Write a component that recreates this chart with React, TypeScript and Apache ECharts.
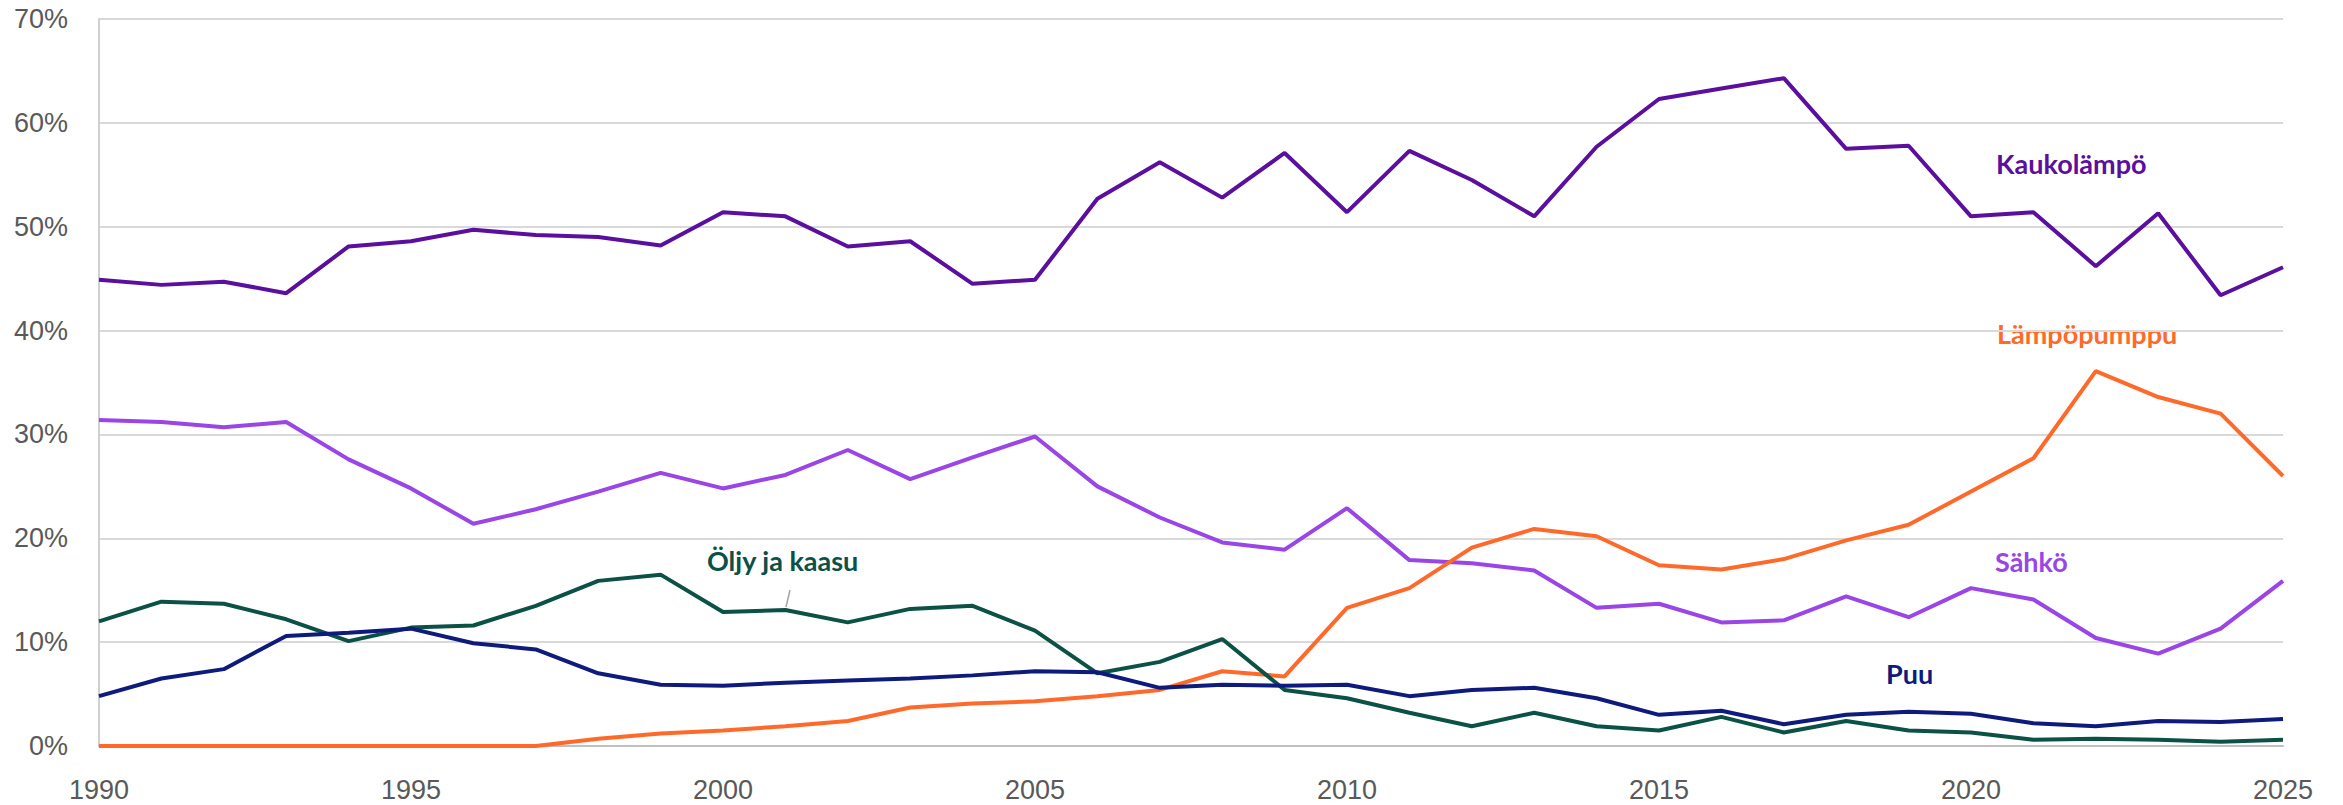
import React, { useEffect, useRef } from "react";
import * as echarts from "echarts";

const years = [
  1990, 1991, 1992, 1993, 1994, 1995, 1996, 1997, 1998, 1999,
  2000, 2001, 2002, 2003, 2004, 2005, 2006, 2007, 2008, 2009,
  2010, 2011, 2012, 2013, 2014, 2015, 2016, 2017, 2018, 2019,
  2020, 2021, 2022, 2023, 2024, 2025,
];

const kaukolampo = [
  44.9, 44.4, 44.7, 43.6, 48.1, 48.6, 49.7, 49.2, 49.0, 48.2,
  51.4, 51.0, 48.1, 48.6, 44.5, 44.9, 52.7, 56.2, 52.8, 57.1,
  51.4, 57.3, 54.5, 51.0, 57.7, 62.3, 63.3, 64.3, 57.5, 57.8,
  51.0, 51.4, 46.2, 51.3, 43.4, 46.1,
];

const sahko = [
  31.4, 31.2, 30.7, 31.2, 27.6, 24.8, 21.4, 22.8, 24.5, 26.3,
  24.8, 26.1, 28.5, 25.7, 27.8, 29.8, 25.0, 22.0, 19.6, 18.9,
  22.9, 17.9, 17.6, 16.9, 13.3, 13.7, 11.9, 12.1, 14.4, 12.4,
  15.2, 14.1, 10.4, 8.9, 11.3, 15.9,
];

const lampopumppu = [
  0, 0, 0, 0, 0, 0, 0, 0, 0.7, 1.2,
  1.5, 1.9, 2.4, 3.7, 4.1, 4.3, 4.8, 5.4, 7.2, 6.7,
  13.3, 15.2, 19.1, 20.9, 20.2, 17.4, 17.0, 18.0, 19.8, 21.3,
  24.5, 27.7, 36.1, 33.6, 32.0, 26.0,
];

const oljyJaKaasu = [
  12.0, 13.9, 13.7, 12.2, 10.1, 11.4, 11.6, 13.5, 15.9, 16.5,
  12.9, 13.1, 11.9, 13.2, 13.5, 11.1, 7.0, 8.1, 10.3, 5.4,
  4.6, 3.2, 1.9, 3.2, 1.9, 1.5, 2.8, 1.3, 2.4, 1.5,
  1.3, 0.6, 0.7, 0.6, 0.4, 0.6,
];

const puu = [
  4.8, 6.5, 7.4, 10.6, 10.9, 11.3, 9.9, 9.3, 7.0, 5.9,
  5.8, 6.1, 6.3, 6.5, 6.8, 7.2, 7.1, 5.6, 5.9, 5.8,
  5.9, 4.8, 5.4, 5.6, 4.6, 3.0, 3.4, 2.1, 3.0, 3.3,
  3.1, 2.2, 1.9, 2.4, 2.3, 2.6,
];

const seriesDefs = [
  { name: "Kaukolämpö", data: kaukolampo, color: "#5A0F9E" },
  { name: "Sähkö", data: sahko, color: "#9A45E6" },
  { name: "Lämpöpumppu", data: lampopumppu, color: "#FF6A2A" },
  { name: "Öljy ja kaasu", data: oljyJaKaasu, color: "#0B5146" },
  { name: "Puu", data: puu, color: "#0E1A7C" },
];

const labelFont = "Lato, 'Open Sans', 'DejaVu Sans', sans-serif";
const axisFont = "'Liberation Sans', Arial, sans-serif";

export default function App() {
  const ref = useRef<HTMLDivElement>(null);

  useEffect(() => {
    document.body.style.margin = "0";
    if (!ref.current) return;
    const chart = echarts.init(ref.current, null, { renderer: "svg" });

    const labelText = (text: string, x: number, y: number, color: string) => ({
      type: "text",
      left: x,
      top: y,
      style: {
        text,
        fill: color,
        font: `bold 27px ${labelFont}`,
      },
    });

    chart.setOption({
      animation: false,
      backgroundColor: "#ffffff",
      grid: { left: 99, right: 60, top: 19, bottom: 59, containLabel: false },
      xAxis: {
        type: "value",
        min: 1990,
        max: 2025,
        interval: 5,
        axisLine: { show: true, lineStyle: { color: "#BFBFBF", width: 2 } },
        axisTick: { show: false },
        splitLine: { show: false },
        axisLabel: {
          color: "#595959",
          fontSize: 27,
          fontFamily: axisFont,
          margin: 30,
          formatter: (v: number) => String(v),
        },
      },
      yAxis: {
        type: "value",
        min: 0,
        max: 70,
        interval: 10,
        axisLine: { show: true, lineStyle: { color: "#D0D0D0", width: 2 } },
        axisTick: { show: false },
        splitLine: { show: true, lineStyle: { color: "#D9D9D9", width: 2 } },
        axisLabel: {
          color: "#595959",
          fontSize: 27,
          fontFamily: axisFont,
          margin: 31,
          formatter: "{value}%",
        },
      },
      series: seriesDefs.map((s) => ({
        name: s.name,
        type: "line",
        data: years.map((y, i) => [y, s.data[i]]),
        showSymbol: false,
        symbol: "none",
        lineStyle: { color: s.color, width: 4 },
        itemStyle: { color: s.color },
        z: 3,
      })),
      graphic: [
        labelText("Kaukolämpö", 1996, 150, "#5A0F9E"),
        labelText("Lämpöpumppu", 1997, 320, "#FF6A2A"),
        labelText("Sähkö", 1995, 548, "#9A45E6"),
        labelText("Puu", 1886, 660, "#0E1A7C"),
        labelText("Öljy ja kaasu", 707, 547, "#0B5146"),
        {
          type: "line",
          shape: { x1: 790, y1: 590, x2: 786, y2: 607 },
          style: { stroke: "#A6A6A6", lineWidth: 1.5 },
        },
      ],
    });

    return () => chart.dispose();
  }, []);

  return <div ref={ref} style={{ width: 2343, height: 805 }} />;
}
